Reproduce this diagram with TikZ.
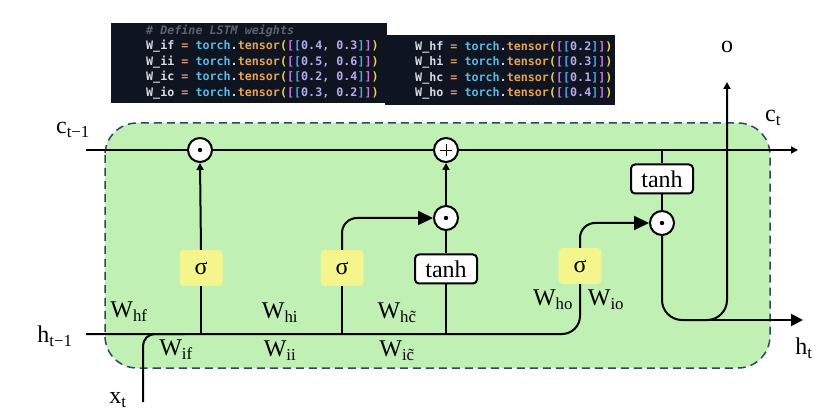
\documentclass[tikz,border=0pt]{standalone}
\usepackage{fontspec}
\setmainfont{Liberation Serif}
\newfontfamily\codefont{DejaVu Sans Mono}
\usetikzlibrary{arrows.meta,calc}
\definecolor{cellgreen}{HTML}{C0F0B4}
\definecolor{dashblue}{HTML}{2C4666}
\definecolor{sigyellow}{HTML}{F4F58C}
\definecolor{codebg}{HTML}{0E1420}
\definecolor{ccomment}{HTML}{5C6370}
\definecolor{cident}{HTML}{D7DAE0}
\definecolor{ceq}{HTML}{E3956B}
\definecolor{ctorch}{HTML}{5CB8E6}
\definecolor{ctensor}{HTML}{E6A352}
\definecolor{cparen}{HTML}{F2D24B}
\definecolor{cbrk}{HTML}{C678DD}
\definecolor{cbrkb}{HTML}{4A9FF5}
\definecolor{cnum}{HTML}{B8A9F0}
\newcommand{\codeline}[2]{\textcolor{cident}{#1} \textcolor{ceq}{=} \textcolor{ctorch}{torch}\textcolor{cident}{.}\textcolor{ctensor}{tensor}\textcolor{cparen}{(}\textcolor{cbrk}{[}\textcolor{cbrkb}{[}\textcolor{cnum}{#2}\textcolor{cbrkb}{]}\textcolor{cbrk}{]}\textcolor{cparen}{)}}
\newcommand{\lbl}[2]{#1\textsubscript{#2}}
\tikzset{
  wire/.style={line width=2pt, black},
  sigbox/.style={fill=sigyellow, rounded corners=4pt, minimum width=43pt, minimum height=36pt, inner sep=0pt, font=\fontsize{24}{24}\selectfont},
  tanhbox/.style={draw=black, line width=2pt, fill=white, rounded corners=4pt, minimum width=62pt, minimum height=29pt, inner sep=0pt, font=\fontsize{24}{24}\selectfont},
  opnode/.style={circle, draw=black, line width=2pt, fill=white, minimum size=24pt, inner sep=0pt},
  lab/.style={font=\fontsize{24}{24}\selectfont, inner sep=0pt},
  codetxt/.style={font=\codefont\bfseries\fontsize{11.7}{11.7}\selectfont, anchor=west, inner sep=0pt},
  bigtip/.style={-{Triangle[length=15pt,width=14pt]}},
  smalltip/.style={-{Triangle[length=7pt,width=7pt]}},
}
\begin{document}
\begin{tikzpicture}[x=1pt,y=-1pt]
\useasboundingbox (0,0) rectangle (829,411);
% code boxes
\fill[codebg] (111,23) rectangle (387,103);
\fill[codebg] (385,35) rectangle (615,105);
\node[codetxt] (cm) at (146,31) {\textcolor{ccomment}{\itshape \# Define LSTM weights}};
\node[codetxt] (c1) at (146,46.5) {\codeline{W\_if}{0.4, 0.3}};
\node[codetxt] (c2) at (146,62) {\codeline{W\_ii}{0.5, 0.6}};
\node[codetxt] (c3) at (146,77.5) {\codeline{W\_ic}{0.2, 0.4}};
\node[codetxt] (c4) at (146,93) {\codeline{W\_io}{0.3, 0.2}};
\node[codetxt] (d1) at (415,47) {\codeline{W\_hf}{0.2}};
\node[codetxt] (d2) at (415,62.5) {\codeline{W\_hi}{0.3}};
\node[codetxt] (d3) at (415,78) {\codeline{W\_hc}{0.1}};
\node[codetxt] (d4) at (415,93.5) {\codeline{W\_ho}{0.4}};
% cell
\draw[fill=cellgreen, draw=dashblue, line width=1.5pt, dash pattern=on 8pt off 5pt, rounded corners=32pt] (105,123) rectangle (770,368);
% coordinates
\coordinate (cin) at (86,150);
\coordinate (cout) at (798,150);
\coordinate (hin) at (86,334);
\coordinate (xin) at (143,402);
\coordinate (hout) at (803,320);
\coordinate (otop) at (727,82);
% nodes
\node[opnode] (m1) at (200,150) {};
\fill (m1) circle (2.2pt);
\node[opnode] (pl) at (446,150) {};
\draw[line width=0.9pt] ($(pl)+(-6,0)$) -- ($(pl)+(6,0)$) ($(pl)+(0,-6)$) -- ($(pl)+(0,6)$);
\node[opnode] (m2) at (446,218) {};
\fill (m2) circle (2.2pt);
\node[opnode] (m3) at (662,223) {};
\fill (m3) circle (2.2pt);
\node[sigbox] (s1) at (201,268) {σ};
\node[sigbox] (s2) at (342,268) {σ};
\node[sigbox] (s3) at (580,266) {σ};
\node[tanhbox] (t1) at (446,269) {tanh};
\node[tanhbox] (t2) at (662,179) {tanh};
% c line
\draw[wire] (cin) -- (m1);
\draw[wire] (m1) -- (pl);
\draw[wire, smalltip] (pl) -- (cout);
% h line
\draw[wire, rounded corners=18pt] (hin) -- (580,334) -- (s3.south);
\draw[wire, rounded corners=12pt] (xin) -- (143,334) -- (185,334);
\draw[wire] (s1.south) -- (201,334);
\draw[wire] (s2.south) -- (342,334);
\draw[wire] (t1.south) -- (446,334);
% gates
\draw[wire, smalltip] (s1.north) -- (m1.south);
\draw[wire, bigtip, rounded corners=15pt] (s2.north) -- (342,218) -- (m2.west);
\draw[wire] (t1.north) -- (m2.south);
\draw[wire, smalltip] (m2.north) -- (pl.south);
\draw[wire, bigtip, rounded corners=15pt] (s3.north) -- (580,223) -- (m3.west);
\draw[wire] (662,150) -- (t2.north);
\draw[wire] (t2.south) -- (m3.north);
% output
\draw[wire, smalltip, rounded corners=20pt] (m3.south) -- (662,320) -- (727,320) -- (otop);
\draw[wire, -{Triangle[length=12pt,width=12pt]}] (690,320) -- (hout);
% labels
\node[lab] (lc0) at (73,130) {\lbl{c}{t−1}};
\node[lab] (lh0) at (55,336) {\lbl{h}{t−1}};
\node[lab] (lx) at (118,400) {\lbl{x}{t}};
\node[lab] (lct) at (773,118) {\lbl{c}{t}};
\node[lab] (lht) at (804,348) {\lbl{h}{t}};
\node[lab] (lo) at (727,47) {o};
\node[lab] (whf) at (129,312) {\lbl{W}{hf}};
\node[lab] (wif) at (176,350) {\lbl{W}{if}};
\node[lab] (whi) at (280,313) {\lbl{W}{hi}};
\node[lab] (wii) at (280,351) {\lbl{W}{ii}};
\node[lab] (whc) at (397,313) {\lbl{W}{h\~{c}}};
\node[lab] (wic) at (397,351) {\lbl{W}{i\~{c}}};
\node[lab] (who) at (553,300) {\lbl{W}{ho}};
\node[lab] (wio) at (606,300) {\lbl{W}{io}};
\end{tikzpicture}
\end{document}
